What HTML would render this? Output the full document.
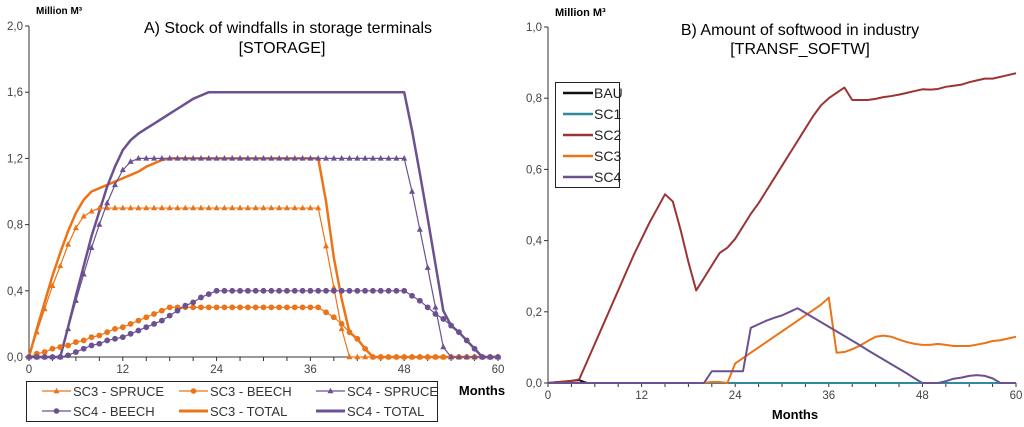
<!DOCTYPE html>
<html><head><meta charset="utf-8"><style>
html,body{margin:0;padding:0;background:#fff;}
svg{display:block;font-family:"Liberation Sans",sans-serif;}
</style></head><body>
<svg id="s" width="1024" height="427" viewBox="0 0 1024 427">
<text x="36" y="14" font-size="10" font-weight="bold">Million M³</text>
<text x="288" y="33" font-size="16" text-anchor="middle">A) Stock of windfalls in storage terminals</text>
<text x="282" y="53" font-size="16" text-anchor="middle">[STORAGE]</text>
<text x="555" y="16" font-size="11" font-weight="bold">Million M³</text>
<text x="800" y="35" font-size="16" text-anchor="middle">B) Amount of softwood in industry</text>
<text x="800" y="54" font-size="16" text-anchor="middle">[TRANSF_SOFTW]</text>
<text x="482" y="395" font-size="13" font-weight="bold" text-anchor="middle">Months</text>
<text x="795" y="419" font-size="13" font-weight="bold" text-anchor="middle">Months</text>
<g id="L"></g><g id="R"></g>
</svg>
<script>
const months=[];for(let i=0;i<=60;i++)months.push(i);
const leftTicks=["0,0","0,4","0,8","1,2","1,6","2,0"];
const rightTicks=["0,0","0,2","0,4","0,6","0,8","1,0"];
const xTickLabels=[0,12,24,36,48,60];
const sc3Spruce=[0,0.15,0.29,0.43,0.55,0.68,0.78,0.85,0.88,0.9,0.9,0.9,0.9,0.9,0.9,0.9,0.9,0.9,0.9,0.9,0.9,0.9,0.9,0.9,0.9,0.9,0.9,0.9,0.9,0.9,0.9,0.9,0.9,0.9,0.9,0.9,0.9,0.9,0.67,0.42,0.17,0,0,0,0,0,0,0,0,0,0,0,0,0,0,0,0,0,0,0,0];
const sc3Beech=[0,0.02,0.03,0.05,0.06,0.07,0.09,0.1,0.12,0.13,0.15,0.17,0.18,0.2,0.22,0.24,0.26,0.28,0.3,0.3,0.3,0.3,0.3,0.3,0.3,0.3,0.3,0.3,0.3,0.3,0.3,0.3,0.3,0.3,0.3,0.3,0.3,0.3,0.27,0.24,0.2,0.15,0.11,0.05,0,0,0,0,0,0,0,0,0,0,0,0,0,0,0,0,0];
const sc4Spruce=[0,0,0,0,0,0.17,0.34,0.5,0.66,0.8,0.93,1.04,1.13,1.18,1.2,1.2,1.2,1.2,1.2,1.2,1.2,1.2,1.2,1.2,1.2,1.2,1.2,1.2,1.2,1.2,1.2,1.2,1.2,1.2,1.2,1.2,1.2,1.2,1.2,1.2,1.2,1.2,1.2,1.2,1.2,1.2,1.2,1.2,1.2,1.0,0.77,0.54,0.3,0.06,0,0,0,0,0,0,0];
const sc4Beech=[0,0,0,0,0,0.01,0.03,0.05,0.07,0.08,0.1,0.11,0.12,0.14,0.16,0.18,0.2,0.22,0.25,0.28,0.31,0.33,0.36,0.38,0.4,0.4,0.4,0.4,0.4,0.4,0.4,0.4,0.4,0.4,0.4,0.4,0.4,0.4,0.4,0.4,0.4,0.4,0.4,0.4,0.4,0.4,0.4,0.4,0.4,0.37,0.34,0.3,0.26,0.23,0.19,0.15,0.1,0.05,0,0,0];
const sc3Total=[0,0.17,0.33,0.49,0.63,0.76,0.87,0.95,1.0,1.02,1.04,1.06,1.08,1.1,1.12,1.15,1.17,1.19,1.2,1.2,1.2,1.2,1.2,1.2,1.2,1.2,1.2,1.2,1.2,1.2,1.2,1.2,1.2,1.2,1.2,1.2,1.2,1.2,0.94,0.6,0.35,0.15,0.11,0.05,0,0,0,0,0,0,0,0,0,0,0,0,0,0,0,0,0];
const sc4Total=[0,0,0,0,0,0.18,0.37,0.55,0.73,0.88,1.03,1.15,1.25,1.31,1.35,1.38,1.41,1.44,1.47,1.5,1.53,1.56,1.58,1.6,1.6,1.6,1.6,1.6,1.6,1.6,1.6,1.6,1.6,1.6,1.6,1.6,1.6,1.6,1.6,1.6,1.6,1.6,1.6,1.6,1.6,1.6,1.6,1.6,1.6,1.37,1.11,0.84,0.56,0.28,0.19,0.15,0.1,0.05,0,0,0];
const bau=[0,0.002,0.004,0.006,0.008,0,0,0,0,0,0,0,0,0,0,0,0,0,0,0,0,0,0,0,0,0,0,0,0,0,0,0,0,0,0,0,0,0,0,0,0,0,0,0,0,0,0,0,0,0,0,0,0,0,0,0,0,0,0,0,0];
const sc1=months.map(()=>0);
const sc2=[0,0.002,0.004,0.006,0.01,0.06,0.11,0.16,0.21,0.26,0.31,0.36,0.405,0.45,0.49,0.53,0.51,0.43,0.34,0.26,0.295,0.33,0.365,0.38,0.405,0.44,0.475,0.505,0.54,0.575,0.61,0.645,0.68,0.715,0.75,0.78,0.8,0.815,0.83,0.795,0.795,0.795,0.798,0.803,0.806,0.81,0.815,0.82,0.825,0.824,0.826,0.832,0.835,0.838,0.845,0.85,0.855,0.855,0.86,0.865,0.87];
const sc3=[0,0,0,0,0,0,0,0,0,0,0,0,0,0,0,0,0,0,0,0,0,0.003,0.003,0,0.055,0.07,0.085,0.1,0.115,0.13,0.145,0.16,0.175,0.19,0.205,0.22,0.24,0.085,0.087,0.095,0.105,0.118,0.13,0.133,0.13,0.122,0.115,0.11,0.107,0.107,0.11,0.107,0.104,0.104,0.104,0.108,0.112,0.118,0.12,0.125,0.13];
const sc4=[0,0,0,0,0,0,0,0,0,0,0,0,0,0,0,0,0,0,0,0,0,0.033,0.033,0.033,0.033,0.033,0.155,0.165,0.175,0.183,0.19,0.2,0.21,0.197,0.184,0.171,0.158,0.145,0.132,0.119,0.106,0.092,0.079,0.066,0.053,0.04,0.027,0.013,0,0,0,0.005,0.012,0.015,0.02,0.022,0.02,0.013,0,0,0];

const NS="http://www.w3.org/2000/svg";
function mk(p,t,a){const e=document.createElementNS(NS,t);for(const k in a)e.setAttribute(k,a[k]);p.appendChild(e);return e;}
const OR="#ec7418",PU="#6b5190";

function axes(g,x0,x1,y0,y1,ymax,ticks,prefix){
  const sx=m=>x0+(x1-x0)*m/60, sy=v=>y0-(y0-y1)*v/ymax;
  const ya=mk(g,'line',{x1:x0,y1:y1,x2:x0,y2:y0,stroke:'#333','stroke-width':1});
  
  
  const xa=mk(g,'line',{x1:x0,y1:y0,x2:x1,y2:y0,stroke:'#333','stroke-width':1});
  
  
  ticks.forEach((t,i)=>{const v=ymax*i/(ticks.length-1);const y=sy(v);
    mk(g,'line',{x1:x0-4,y1:y,x2:x0,y2:y,stroke:'#333'});
    const tx=mk(g,'text',{x:x0-6,y:y+4,'font-size':11.5,'text-anchor':'end',fill:'#444'});tx.textContent=t;
    
    });
  for(let m=0;m<=60;m+=3){mk(g,'line',{x1:sx(m),y1:y0,x2:sx(m),y2:y0+4,stroke:'#333'});}
  xTickLabels.forEach(m=>{const tx=mk(g,'text',{x:sx(m),y:y0+16,'font-size':11.5,'text-anchor':'middle',fill:'#444'});tx.textContent=m;
    
    });
  return [sx,sy];
}
function line(g,sx,sy,data,col,w,name){
  const p=mk(g,'polyline',{points:data.map((v,i)=>sx(months[i])+','+sy(v)).join(' '),fill:'none',stroke:col,'stroke-width':w,'stroke-linejoin':'round'});
  
  
}
function markers(g,sx,sy,data,col,type,name){
  const grp=mk(g,'g',{fill:col});
  
  
  data.forEach((v,i)=>{const x=sx(months[i]),y=sy(v);
    if(type==='c')mk(grp,'circle',{cx:x,cy:y,r:2.9});
    else mk(grp,'polygon',{points:`${x},${y-3.4} ${x-3},${y+2.2} ${x+3},${y+2.2}`});});
}
const L=document.getElementById('L');
const [lx,ly]=axes(L,29,498,357,26,2.0,leftTicks,'left');
line(L,lx,ly,sc3Total,OR,2.5,'sc3-total-line');
line(L,lx,ly,sc4Total,PU,2.5,'sc4-total-line');
line(L,lx,ly,sc3Spruce,OR,1.2,'sc3-spruce-line');markers(L,lx,ly,sc3Spruce,OR,'t','sc3-spruce-markers');
line(L,lx,ly,sc3Beech,OR,1.2,'sc3-beech-line');markers(L,lx,ly,sc3Beech,OR,'c','sc3-beech-markers');
line(L,lx,ly,sc4Spruce,PU,1.2,'sc4-spruce-line');markers(L,lx,ly,sc4Spruce,PU,'t','sc4-spruce-markers');
line(L,lx,ly,sc4Beech,PU,1.2,'sc4-beech-line');markers(L,lx,ly,sc4Beech,PU,'c','sc4-beech-markers');

const R=document.getElementById('R');
const [rx,ry]=axes(R,548,1016,383,27,1.0,rightTicks,'right');
line(R,rx,ry,bau,'#111',2,'bau-line');
line(R,rx,ry,sc1,'#2f8a9c',2,'sc1-line');
line(R,rx,ry,sc2,'#9c3434',2,'sc2-line');
line(R,rx,ry,sc3,OR,2,'sc3-line');
line(R,rx,ry,sc4,PU,2,'sc4-line');

const lg=mk(L,'g',{});


mk(lg,'rect',{x:26.5,y:381.5,width:411,height:40,fill:'#fff',stroke:'#222','stroke-width':1});
const lents=[["SC3 - SPRUCE",OR,'t',1.2],["SC3 - BEECH",OR,'c',1.2],["SC4 - SPRUCE",PU,'t',1.2],["SC4 - BEECH",PU,'c',1.2],["SC3 - TOTAL",OR,'',3],["SC4 - TOTAL",PU,'',3]];
lents.forEach((e,i)=>{const cx=[42,179,316][i%3],cy=i<3?391:411;
  const eg=mk(lg,'g',{});
  
  
  mk(eg,'line',{x1:cx,y1:cy,x2:cx+29,y2:cy,stroke:e[1],'stroke-width':e[3]});
  const m=cx+14.5;
  if(e[2]==='c')mk(eg,'circle',{cx:m,cy:cy,r:2.8,fill:e[1]});
  if(e[2]==='t')mk(eg,'polygon',{points:`${m},${cy-3.3} ${m-3},${cy+2.2} ${m+3},${cy+2.2}`,fill:e[1]});
  const t=mk(eg,'text',{x:cx+31,y:cy+5,'font-size':13,fill:'#333'});t.textContent=e[0];});

const rg=mk(R,'g',{});


mk(rg,'rect',{x:555.5,y:82.5,width:64,height:105,fill:'#fff',stroke:'#222','stroke-width':1});
[["BAU","#111"],["SC1","#2f8a9c"],["SC2","#9c3434"],["SC3",OR],["SC4",PU]].forEach((e,i)=>{const cy=93+i*21;
  const eg=mk(rg,'g',{});
  
  
  mk(eg,'line',{x1:563,y1:cy,x2:593,y2:cy,stroke:e[1],'stroke-width':2.5});
  const t=mk(eg,'text',{x:594,y:cy+5,'font-size':14,fill:'#222'});t.textContent=e[0];});
</script>
</body></html>
